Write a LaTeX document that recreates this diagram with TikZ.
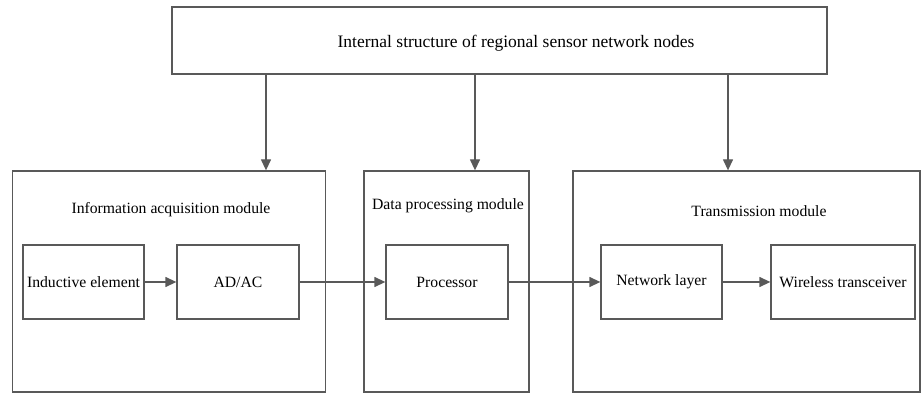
\documentclass[tikz,border=0pt]{standalone}
\usepackage{fontspec}
\setmainfont{Liberation Serif}
\usetikzlibrary{arrows.meta}
\definecolor{linegray}{HTML}{595959}
\begin{document}
\begin{tikzpicture}[x=1pt,y=-1pt,line width=1.3pt,
		font=\fontsize{15.7}{18}\selectfont,
		box/.style={draw=linegray,inner sep=0pt,minimum width=#1},
		modbox/.style={box=#1,minimum height=221pt},
		unitbox/.style={box=#1,minimum height=74pt},
		link/.style={draw=linegray,-{Triangle[length=11pt,width=10pt]}}]
		\useasboundingbox (0,0) rectangle (922,395);
		% top box
		\node[box=655,minimum height=67pt] (top) at (499.5,40.5) {};
		\node[font=\fontsize{17.5}{20}\selectfont] (topl) at (516,43) {Internal structure of regional sensor network nodes};
		% modules
		\node[modbox=313] (acq) at (169.3,281.5) {};
		\node[modbox=165] (dpm) at (446.5,281.5) {};
		\node[modbox=347] (trm) at (746.5,281.5) {};
		\node (acql) at (171,210) {Information acquisition module};
		\node (dpml) at (448,206) {Data processing module};
		\node (trml) at (759,211) {Transmission module};
		% inner units
		\node[unitbox=121] (ind) at (83.5,282) {Inductive element};
		\node[unitbox=122] (adac) at (238,282) {AD/AC};
		\node[unitbox=122] (proc) at (447,282) {Processor};
		\node[unitbox=121] (net) at (661.5,282) {Network layer};
		\node[unitbox=144] (wir) at (843,282) {Wireless transceiver};
		% arrows
		\draw[link] (top.south -| 266,0) -- (acq.north -| 266,0);
		\draw[link] (top.south -| 475,0) -- (dpm.north -| 475,0);
		\draw[link] (top.south -| 728,0) -- (trm.north -| 728,0);
		\draw[link] (ind) -- (adac);
		\draw[link] (adac) -- (proc);
		\draw[link] (proc) -- (net);
		\draw[link] (net) -- (wir);
\end{tikzpicture}
\end{document}
